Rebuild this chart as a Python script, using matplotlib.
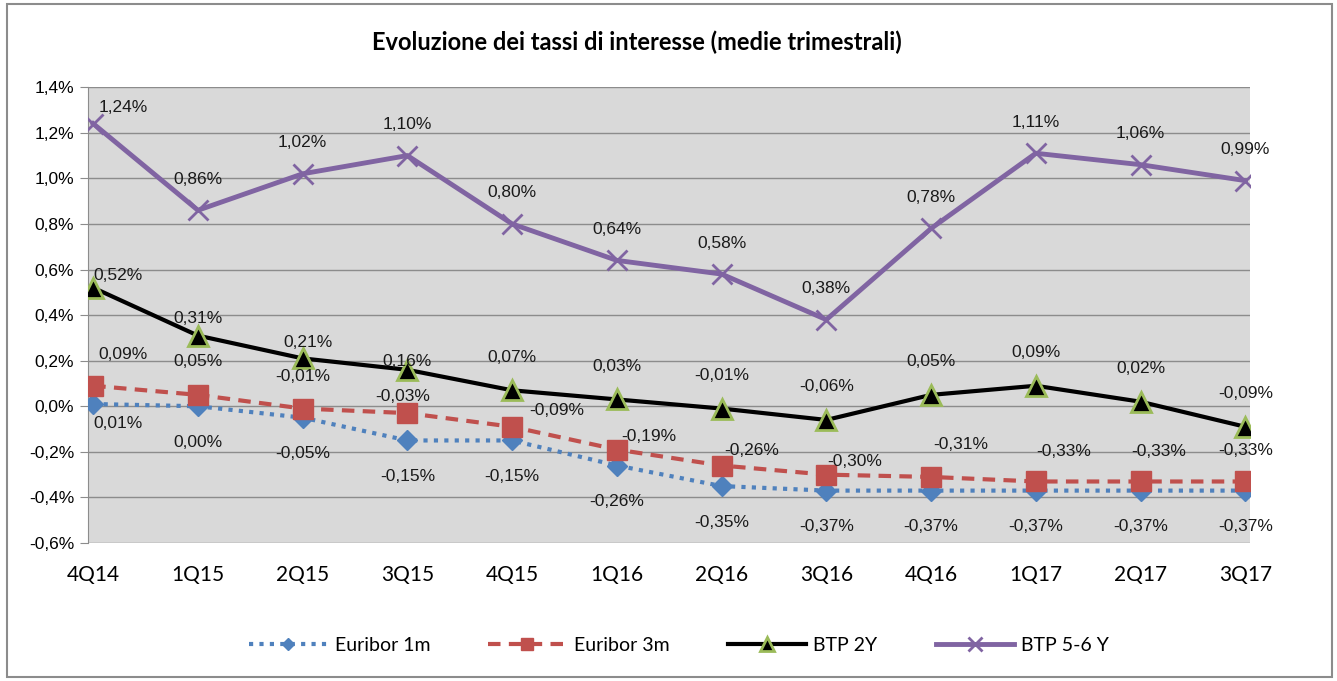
import matplotlib
matplotlib.use("Agg")
import matplotlib.pyplot as plt
from matplotlib.patches import Rectangle

quarters = ["4Q14", "1Q15", "2Q15", "3Q15", "4Q15", "1Q16",
            "2Q16", "3Q16", "4Q16", "1Q17", "2Q17", "3Q17"]
euribor_1m = [0.01, 0.00, -0.05, -0.15, -0.15, -0.26, -0.35, -0.37, -0.37, -0.37, -0.37, -0.37]
euribor_3m = [0.09, 0.05, -0.01, -0.03, -0.09, -0.19, -0.26, -0.30, -0.31, -0.33, -0.33, -0.33]
btp_2y = [0.52, 0.31, 0.21, 0.16, 0.07, 0.03, -0.01, -0.06, 0.05, 0.09, 0.02, -0.09]
btp_56y = [1.24, 0.86, 1.02, 1.10, 0.80, 0.64, 0.58, 0.38, 0.78, 1.11, 1.06, 0.99]
yticks = [-0.6, -0.4, -0.2, 0.0, 0.2, 0.4, 0.6, 0.8, 1.0, 1.2, 1.4]

# label offsets in pixels, as placed in the original
off_1m = [(25, -20)] + [(0, -36)] * 11
off_3m = [(30, 31), (0, 33), (0, 32), (-5, 17), (45, 16), (32, 13),
          (30, 15), (28, 13), (30, 32), (28, 30), (18, 30), (0, 31)]
off_2y = [(25, 12), (0, 17), (5, 16), (0, 8)] + [(0, 33)] * 8
off_56y = [(30, 16)] + [(0, 31)] * 11

x = list(range(len(quarters)))

fig = plt.figure(figsize=(13.37, 6.81), dpi=100)
fig.patches.append(Rectangle((0.005, 0.006), 0.991, 0.988, transform=fig.transFigure,
                             fill=False, edgecolor="#8c8c8c", linewidth=1.5))
ax = fig.add_axes([0.0658, 0.2026, 0.8695, 0.6694])
ax.set_facecolor("#d9d9d9")

l1, = ax.plot(x, euribor_1m, color="#4f81bd", linestyle=(0, (1, 1.5)), linewidth=3,
              marker="D", markersize=10, label="Euribor 1m", zorder=3)
l2, = ax.plot(x, euribor_3m, color="#c0504d", linestyle=(0, (3, 2)), linewidth=3,
              marker="s", markersize=14, label="Euribor 3m", zorder=4)
l3, = ax.plot(x, btp_2y, color="black", linewidth=3, marker="^", markersize=15,
              markerfacecolor="black", markeredgecolor="#9bbb59", markeredgewidth=2,
              label="BTP 2Y", zorder=5)
l4, = ax.plot(x, btp_56y, color="#8064a2", linewidth=3.5, marker="x", markersize=15,
              markeredgewidth=2, label="BTP 5-6 Y", zorder=6)

def fmt(v):
    return ("%.2f%%" % v).replace(".", ",")

for vals, offs in [(euribor_1m, off_1m), (euribor_3m, off_3m), (btp_2y, off_2y), (btp_56y, off_56y)]:
    for i, v in enumerate(vals):
        ax.annotate(fmt(v), (i, v), xytext=offs[i], textcoords="offset pixels",
                    ha="center", va="center", fontsize=12.5,
                    family="Liberation Sans", color="#1a1a1a", zorder=7)

ax.set_xlim(-0.05, 11.05)
ax.set_ylim(-0.6, 1.4)
ax.set_yticks(yticks)
ax.set_yticklabels([("%.1f%%" % t).replace(".", ",") for t in yticks],
                   family="Liberation Sans", fontsize=12.5)
ax.set_xticks(x)
ax.set_xticklabels(quarters, family="Lato", fontsize=15)
ax.yaxis.grid(True, color="#8c8c8c", linewidth=1)
ax.set_axisbelow(True)
for s in ["top", "right", "bottom"]:
    ax.spines[s].set_visible(False)
ax.spines["left"].set_color("#8c8c8c")
ax.tick_params(axis="y", length=6, color="#8c8c8c", pad=4)
ax.tick_params(axis="x", length=0, pad=16)

fig.text(0.476, 0.938, "Evoluzione dei tassi di interesse (medie trimestrali)",
         ha="center", va="center", fontsize=17, fontweight="bold", family="Lato")

fig.legend(handles=[l1, l2, l3, l4], loc="center", bbox_to_anchor=(0.508, 0.052),
           ncol=4, frameon=False, prop={"family": "Lato", "size": 14}, markerscale=0.65,
           handlelength=4, columnspacing=3.0, handletextpad=0.4)

fig.savefig("out.png", dpi=100)
